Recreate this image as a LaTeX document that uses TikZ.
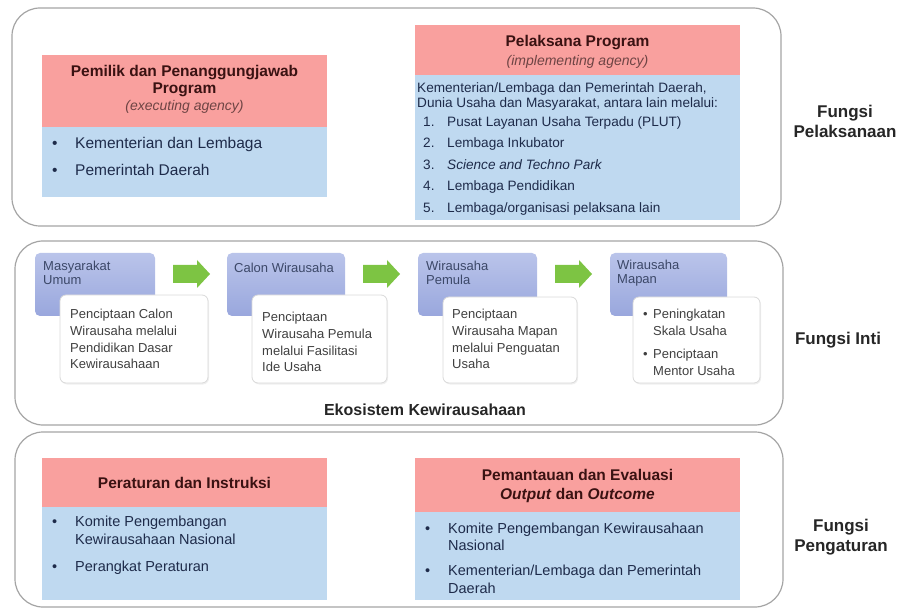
\documentclass[tikz,border=0pt]{standalone}
\usepackage{fontspec}
\setmainfont{Liberation Sans}
\usetikzlibrary{shadows}
\definecolor{hdrred}{HTML}{F9A09E}
\definecolor{bodyblue}{HTML}{BFD9F0}
\definecolor{hdrink}{HTML}{3A1212}
\definecolor{subink}{HTML}{6E4444}
\definecolor{bodyink}{HTML}{1E2B4A}
\definecolor{stagetop}{HTML}{BAC4EA}
\definecolor{stagebot}{HTML}{99A7DD}
\definecolor{stageink}{HTML}{3C4868}
\definecolor{noteink}{HTML}{404040}
\definecolor{arrowgreen}{HTML}{7DC443}
\definecolor{panelline}{HTML}{A4A4A4}
\newcommand{\bul}[1][23pt]{\makebox[#1][l]{\textbullet}}
\newcommand{\itemnum}[1]{\hspace*{6pt}\makebox[24pt][l]{#1}}
\begin{document}
\begin{tikzpicture}[x=1pt,y=-1pt,
  panel/.style={draw=panelline, line width=1.2pt, rounded corners=28pt},
  box/.style={anchor=north west, inner sep=0pt, outer sep=0pt},
  hdr/.style={box, fill=hdrred},
  bodybox/.style={box, fill=bodyblue},
  stage/.style={box, rounded corners=5pt, top color=stagetop, bottom color=stagebot},
  note/.style={box, rounded corners=6pt, fill=white, draw=black!15, line width=0.8pt,
    drop shadow={opacity=0.12, shadow xshift=1pt, shadow yshift=-1.5pt}},
  txt/.style={inner sep=0pt, align=left, anchor=west},
  hdrtxt/.style={inner sep=0pt, align=center, text=hdrink, font=\fontsize{15.5}{17}\selectfont\bfseries},
  bodytxt/.style={txt, text=bodyink},
  stagetxt/.style={txt, text=stageink, font=\fontsize{13}{14.5}\selectfont},
  notetxt/.style={txt, text=noteink, font=\fontsize{13}{16.8}\selectfont},
  sidetxt/.style={inner sep=0pt, align=center, text=black!85, font=\fontsize{17}{20}\selectfont\bfseries},
  greenarrow/.style={fill=arrowgreen}
]
\path[use as bounding box] (0,0) rectangle (905,612);

% ---------------- panels ----------------
\draw[panel] (12,8) rectangle (781,226);
\draw[panel] (15,241) rectangle (783,425);
\draw[panel] (15,432) rectangle (783,607);

% ---------------- panel 1 ----------------
\node[hdr, minimum width=285pt, minimum height=72pt] (hdrA) at (42,55) {};
\node[bodybox, minimum width=285pt, minimum height=70pt] (bodyA) at (42,127) {};
\node[hdrtxt] (tA) at (184.5,89) {Pemilik dan Penanggungjawab\\Program\\{\mdseries\itshape\color{subink}\fontsize{14}{17}\selectfont (executing agency)}};
\node[bodytxt, font=\fontsize{15.5}{18}\selectfont] (tbA) at (52,156)
  {\bul Kementerian dan Lembaga\\[9pt]\bul Pemerintah Daerah};

\node[hdr, minimum width=325pt, minimum height=50pt] (hdrB) at (415,25) {};
\node[bodybox, minimum width=325pt, minimum height=145pt] (bodyB) at (415,75) {};
\node[hdrtxt] (tB) at (577.5,52) {Pelaksana Program\\[2pt]{\mdseries\itshape\color{subink}\fontsize{14}{17}\selectfont (implementing agency)}};
\node[bodytxt, font=\fontsize{13.6}{15.5}\selectfont] (tbB) at (417,148.5)
  {Kementerian/Lembaga dan Pemerintah Daerah,\\
   Dunia Usaha dan Masyarakat, antara lain melalui:\\[3pt]
   \itemnum{1.}Pusat Layanan Usaha Terpadu (PLUT)\\[6pt]
   \itemnum{2.}Lembaga Inkubator\\[6pt]
   \itemnum{3.}\textit{Science and Techno Park}\\[6pt]
   \itemnum{4.}Lembaga Pendidikan\\[6pt]
   \itemnum{5.}Lembaga/organisasi pelaksana lain};

\node[sidetxt] (fp) at (845,121) {Fungsi\\Pelaksanaan};

% ---------------- panel 2 ----------------
\node[stage, minimum width=120pt, minimum height=63pt] (s1) at (35,253) {};
\node[stage, minimum width=118pt, minimum height=63pt] (s2) at (227,253) {};
\node[stage, minimum width=119pt, minimum height=63pt] (s3) at (418,253) {};
\node[stage, minimum width=117pt, minimum height=63pt] (s4) at (610,253) {};

\node[stagetxt] (ts1) at (43,273) {Masyarakat\\Umum};
\node[stagetxt] (ts2) at (234,268) {Calon Wirausaha};
\node[stagetxt] (ts3) at (426,273) {Wirausaha\\Pemula};
\node[stagetxt] (ts4) at (617,273) {Wirausaha\\Mapan};

\node[note, minimum width=148pt, minimum height=88pt] (n1) at (60,295) {};
\node[note, minimum width=135pt, minimum height=88pt] (n2) at (252,295) {};
\node[note, minimum width=134pt, minimum height=86pt] (n3) at (443,297) {};
\node[note, minimum width=127pt, minimum height=86pt] (n4) at (633,297) {};

\node[notetxt] (tn1) at (70,339) {Penciptaan Calon\\Wirausaha melalui\\Pendidikan Dasar\\Kewirausahaan};
\node[notetxt] (tn2) at (262,342) {Penciptaan\\Wirausaha Pemula\\melalui Fasilitasi\\Ide Usaha};
\node[notetxt] (tn3) at (452,339) {Penciptaan\\Wirausaha Mapan\\melalui Penguatan\\Usaha};
\node[notetxt, font=\fontsize{13}{17}\selectfont] (tn4) at (643,342)
  {\bul[10pt]Peningkatan\\\hspace*{10pt}Skala Usaha\\[6pt]\bul[10pt]Penciptaan\\\hspace*{10pt}Mentor Usaha};

\foreach \ax in {173,363,555}
  \fill[greenarrow] (\ax,265) -- ++(24,0) -- ++(0,-5) -- ++(13,14) -- ++(-13,14) -- ++(0,-5) -- ++(-24,0) -- cycle;

\node[inner sep=0pt, text=black!85, font=\fontsize{16}{19}\selectfont\bfseries] (eko) at (425,410) {Ekosistem Kewirausahaan};
\node[sidetxt] (fi) at (838,340) {Fungsi Inti};

% ---------------- panel 3 ----------------
\node[hdr, minimum width=285pt, minimum height=49pt] (hdrC) at (42,458) {};
\node[bodybox, minimum width=285pt, minimum height=93pt] (bodyC) at (42,507) {};
\node[hdrtxt] (tC) at (184.5,483) {Peraturan dan Instruksi};
\node[bodytxt, font=\fontsize{14.5}{17.5}\selectfont] (tbC) at (52,545)
  {\bul Komite Pengembangan\\\hspace*{23pt}Kewirausahaan Nasional\\[9.5pt]\bul Perangkat Peraturan};

\node[hdr, minimum width=325pt, minimum height=54pt] (hdrD) at (415,458) {};
\node[bodybox, minimum width=325pt, minimum height=88pt] (bodyD) at (415,512) {};
\node[hdrtxt] (tD) at (577.5,486) {Pemantauan dan Evaluasi\\[2pt]\textit{Output} dan \textit{Outcome}};
\node[bodytxt, font=\fontsize{14.5}{17.5}\selectfont] (tbD) at (425,558)
  {\bul Komite Pengembangan Kewirausahaan\\\hspace*{23pt}Nasional\\[7.5pt]\bul Kementerian/Lembaga dan Pemerintah\\\hspace*{23pt}Daerah};

\node[sidetxt] (fpg) at (841,537) {Fungsi\\Pengaturan};
\end{tikzpicture}
\end{document}
